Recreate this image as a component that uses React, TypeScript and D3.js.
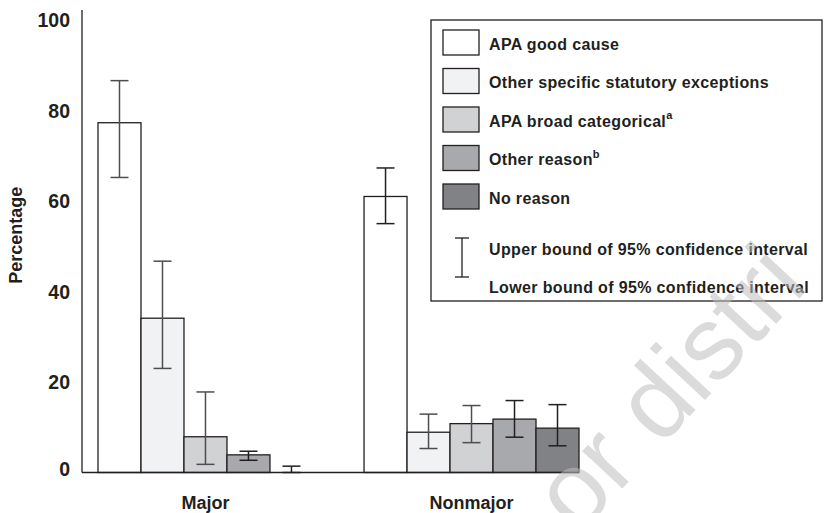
import React from 'react';
import * as d3 from 'd3';

const groups = ['Major', 'Nonmajor'];
const reasons = [
  'APA good cause',
  'Other specific statutory exceptions',
  'APA broad categorical',
  'Other reason',
  'No reason',
];
const footnotes = ['', '', 'a', 'b', ''];
const fills = ['#ffffff', '#f1f2f3', '#d1d2d4', '#a7a9ac', '#808285'];

const majorValues = [77.3, 34.1, 7.9, 3.9, 0];
const majorUpper = [86.6, 46.7, 17.8, 4.7, 1.4];
const majorLower = [65.2, 23.0, 1.8, 2.7, 0];

const nonmajorValues = [61.0, 8.9, 10.8, 11.8, 9.8];
const nonmajorUpper = [67.3, 12.9, 14.8, 15.9, 15.0];
const nonmajorLower = [55.0, 5.3, 6.6, 7.8, 5.9];

const yTicks = [0, 20, 40, 60, 80, 100];

const W = 824;
const H = 513;
const font = "'Liberation Sans', Arial, sans-serif";
const ink = '#231f20';

export default function App() {
  const y = d3.scaleLinear().domain([0, 100]).range([472.5, 20]);
  const x0 = d3.scaleBand().domain(groups).range([98, 579]).paddingInner(0.192);
  const x1 = d3.scaleBand().domain(reasons).range([0, x0.bandwidth()]);

  const rows = groups.map((g, gi) =>
    reasons.map((r, ri) => ({
      g,
      r,
      ri,
      v: gi === 0 ? majorValues[ri] : nonmajorValues[ri],
      hi: gi === 0 ? majorUpper[ri] : nonmajorUpper[ri],
      lo: gi === 0 ? majorLower[ri] : nonmajorLower[ri],
    }))
  );

  const legendY = d3.scaleLinear().domain([0, 1]).range([30, 68.5]);
  const legendText = { fontFamily: font, fontWeight: 'bold' as const, fontSize: 16, letterSpacing: 0.35, fill: ink };

  return (
    <svg width={W} height={H} style={{ position: 'absolute', left: 0, top: 0, background: '#fff' }}>
      {/* y axis */}
      <line x1={82} x2={82} y1={10} y2={y(0)} stroke={ink} strokeWidth={1.3} />
      {yTicks.map((t) => (
        <text
          key={t}
          x={70}
          y={y(t) - (t === 0 ? 4 : 0)}
          textAnchor="end"
          dominantBaseline="central"
          fontFamily={font}
          fontWeight="bold"
          fontSize={19.5}
          fill={ink}
        >
          {t}
        </text>
      ))}
      <text
        transform={`translate(16,${(y(0) + y(100)) / 2 - 11}) rotate(-90)`}
        textAnchor="middle"
        dominantBaseline="central"
        fontFamily={font}
        fontWeight="bold"
        fontSize={18}
        fill={ink}
      >
        Percentage
      </text>

      {/* bars */}
      {rows.flat().map((d) => {
        const bx = (x0(d.g) || 0) + (x1(d.r) || 0);
        const bw = x1.bandwidth();
        const cx = bx + bw / 2;
        return (
          <g key={d.g + d.r}>
            {d.v > 0 && (
              <rect
                x={bx}
                y={y(d.v)}
                width={bw}
                height={y(0) - y(d.v)}
                fill={fills[d.ri]}
                stroke={ink}
                strokeWidth={1.3}
              />
            )}
            <g stroke={d.ri === 1 || d.ri === 2 || (d.g === 'Major' && d.ri === 0) ? '#4d4d4f' : ink} strokeWidth={1.5}>
              <line x1={cx} x2={cx} y1={y(d.hi)} y2={y(d.lo)} />
              <line x1={cx - 9} x2={cx + 9} y1={y(d.hi)} y2={y(d.hi)} />
              <line x1={cx - 9} x2={cx + 9} y1={y(d.lo)} y2={y(d.lo)} />
            </g>
          </g>
        );
      })}

      {/* x baseline */}
      <line x1={82} x2={579} y1={y(0)} y2={y(0)} stroke={ink} strokeWidth={1.3} />
      {groups.map((g) => (
        <text
          key={g}
          x={(x0(g) || 0) + x0.bandwidth() / 2}
          y={503}
          textAnchor="middle"
          dominantBaseline="central"
          fontFamily={font}
          fontWeight="bold"
          fontSize={18}
          fill={ink}
        >
          {g}
        </text>
      ))}

      {/* legend */}
      <rect x={431} y={20} width={391} height={281} fill="#fff" stroke={ink} strokeWidth={1.3} />
      {reasons.map((r, i) => (
        <g key={r}>
          <rect x={443} y={legendY(i)} width={36} height={25} fill={fills[i]} stroke={ink} strokeWidth={1.3} />
          <text x={489} y={legendY(i) + 14} dominantBaseline="central" {...legendText}>
            {r}
            {footnotes[i] && (
              <tspan fontSize={11} dy={-6}>
                {footnotes[i]}
              </tspan>
            )}
          </text>
        </g>
      ))}
      <g stroke={ink} strokeWidth={1.3}>
        <line x1={462} x2={462} y1={238} y2={277} />
        <line x1={455} x2={469} y1={238} y2={238} />
        <line x1={455} x2={469} y1={277} y2={277} />
      </g>
      <text x={489} y={249} dominantBaseline="central" {...legendText}>
        Upper bound of 95% confidence interval
      </text>
      <text x={489} y={287} dominantBaseline="central" {...legendText}>
        Lower bound of 95% confidence interval
      </text>

      {/* watermark */}
      <text
        x={0}
        y={0}
        transform="translate(578,536) rotate(-47)"
        fontFamily={font}
        fontSize={104}
        fill="#bdbdbd"
        fillOpacity={0.55}
      >
        or distri
      </text>
    </svg>
  );
}
